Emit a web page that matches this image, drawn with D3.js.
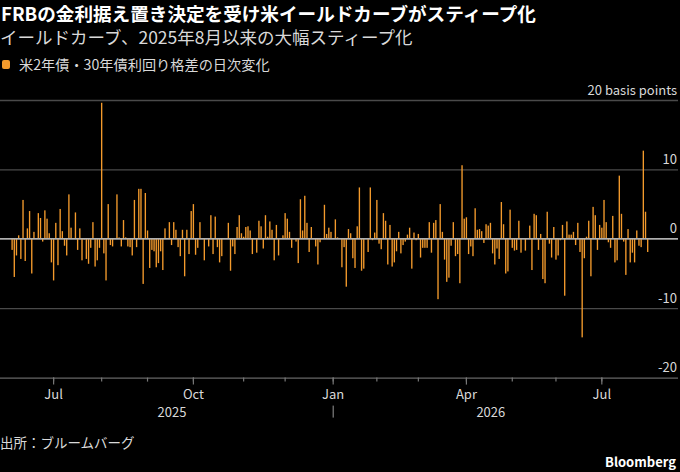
<!DOCTYPE html>
<html>
<head>
<meta charset="utf-8">
<script src="https://cdn.jsdelivr.net/npm/d3@7"></script>
<style>
    body { margin: 0; background: #000; }
    svg text { font-family: "Noto Sans CJK JP", "Noto Sans", sans-serif; }
</style>
</head>
<body>
<div id="chart-container"></div>
<script>

var TITLE = 'FRBの金利据え置き決定を受け米イールドカーブがスティープ化';
var SUBTITLE = 'イールドカーブ、2025年8月以来の大幅スティープ化';
var LEGEND_LABEL = '米2年債・30年債利回り格差の日次変化';
var UNIT_LABEL = '20 basis points';
var SOURCE = '出所：ブルームバーグ';
var BRAND = 'Bloomberg';

// trading days start here, weekends and these market holidays are skipped
var FIRST_DAY = '2025-06-03';
var HOLIDAYS = ['2025-06-19', '2025-07-04', '2025-09-01', '2025-11-27', '2025-12-25',
    '2026-01-01', '2026-01-19', '2026-02-16', '2026-04-03', '2026-05-25',
    '2026-06-19', '2026-07-03'];

// daily change of the 2s30s spread, basis points
var SPREAD_CHANGE = [
    -1.6, -5.5, -2.4, 0.5, -2.9, 5.6, -3.2, 1.5, 4.0, -5.0,
    1.0, 0.1, 3.7, 3.0, -0.4, 4.1, 2.9, 0.8, -3.4, -6.0,
    2.3, -3.8, 4.3, 1.1, -1.0, -2.4, 6.4, 1.6, 0, 3.8,
    -1.6, 1.5, -3.1, -0.1, -2.9, -3.6, -1.3, 2.4, -4.0, -3.1,
    -1.3, 19.6, -2.1, -6.0, 5.0, -0.9, -1.1, 0, 6.4, 0.2,
    -1.1, 2.7, 0.2, -1.1, -1.2, -2.4, 5.6, -1.2, 7.2, 7.2,
    -6.5, 6.6, 1.2, -4.2, -1.6, -1.8, -4.1, -3.5, -1.8, -4.5,
    1.5, 0, 2.4, -0.9, 2.4, 1.3, -1.2, -2.5, 1.3, -5.4,
    1.3, -2.2, 4.0, 5.0, -2.3, -1.3, 2.4, 0, -3.1, 0,
    -1.1, 3.4, -2.2, 3.2, -1.2, -3.4, -2.5, 0, 0, 2.3,
    -4.6, -1.1, -2.2, 1.7, 3.4, 0.8, 0.3, 1.7, 1.8, 1.2,
    -2.2, 0, -2.0, 2.6, 1.8, -1.4, 3.4, 0.3, 2.5, 1.3,
    -3.1, 2.0, -2.4, 0, 0.5, 3.7, 2.9, 1.0, -1.3, 0,
    -0.4, -3.5, 5.7, 1.2, 6.2, 2.3, -1.9, 1.7, 0, -1.1,
    -3.7, -0.5, 0, 4.9, 0.7, 1.6, 1.0, 0, 2.8, 0.2,
    0, -4.1, -1.2, -6.9, 1.4, 0.8, -2.8, -4.2, 1.8, 7.4,
    -4.6, -4.3, 0, -1.9, 7.4, -0.2, 0.9, 5.6, -0.7, -1.5,
    3.7, 2.6, -3.7, 2.0, -4.0, -3.4, -1.8, 1.0, -2.1, -0.9,
    -0.4, 0.6, 1.6, -4.3, 0.9, -0.2, 0.7, -2.7, -1.3, -1.3,
    -1.3, 2.4, -2.0, 2.3, 2.7, -8.7, 5.0, 1.0, -3.0, -6.2,
    -5.6, -1.0, 2.4, -2.5, -2.2, -6.4, 10.6, 2.9, 3.1, -2.2,
    -1.1, -2.5, 4.4, 1.3, 1.4, 1.1, -0.6, 2.1, 1.9, 2.3,
    -2.1, -3.7, -1.4, -2.9, 5.3, 2.1, -5.0, -4.7, 4.2, -1.3,
    -1.7, -1.6, 2.6, -2.0, 0, -1.7, 0, 1.9, -4.5, 3.6,
    3.4, -1.6, 0.7, -5.8, -6.4, 3.9, -0.7, -2.7, 1.7, -3.0,
    -2.4, -0.2, 2.0, -8.2, 2.5, 0.6, 0.6, 1.0, -0.9, 2.3,
    -1.9, -14.2, -2.8, 0.3, 2.6, -5.4, 4.6, 3.4, -1.6, 2.0,
    1.6, 5.6, 2.4, -0.5, -1.3, 3.3, -3.4, -3.1, 9.1, 3.6,
    -0.4, -5.2, 1.4, -3.4, -2.0, -3.4, 1.2, -1.0, -1.2, 12.7,
    3.9, -1.9
];

var Y_TICKS = [20, 10, 0, -10, -20];
var LABELLED_MONTHS = [0, 3, 6, 9]; // Jan Apr Jul Oct
var YEARS = [2025, 2026];

var CHART = (function () {

    var _svg = null,
    _gGrid = null,
    _gBars = null,
    _gXAxis = null,

    _width = 680,
    _height = 472,

    _plotLeft = 0,
    _plotRight = 678,
    _plotTop = 100,
    _plotBottom = 377.6,

    _barColor = '#f39a2c',
    _textColor = '#d9d9d9',
    _gridColor = '#4a4a4a',
    _zeroColor = '#b0b0b0'
    ;

    var fmtKey = d3.utcFormat('%Y-%m-%d');
    var fmtMonth = d3.utcFormat('%b');

    function tradingDays(n) {
        var skip = new Set(HOLIDAYS);
        var start = new Date(FIRST_DAY + 'T00:00:00Z');
        var all = d3.utcDays(start, d3.utcDay.offset(start, 600));
        return all.filter(function (d) {
            var wd = d.getUTCDay();
            return wd !== 0 && wd !== 6 && !skip.has(fmtKey(d));
        }).slice(0, n);
    }

    function draw() {

        var days = tradingDays(SPREAD_CHANGE.length);
        var data = SPREAD_CHANGE.map(function (v, i) { return { i: i, date: days[i], v: v }; });

        var x = d3.scaleBand()
            .domain(d3.range(data.length))
            .range([10.6, 10.6 + 2.187 * data.length])
            .padding(0.38);

        var y = d3.scaleLinear()
            .domain([-20, 20])
            .range([_plotBottom, _plotTop]);

        _svg = d3.select('#chart-container').append('svg')
            .attr('width', _width)
            .attr('height', _height)
            .style('background', '#000');

        // HEADER
        // ----------------------------------------------------------------
        _svg.append('text')
            .attr('x', 1).attr('y', 21)
            .attr('fill', '#fff')
            .attr('font-size', 18.6)
            .attr('font-weight', 'bold')
            .text(TITLE);

        _svg.append('text')
            .attr('x', 0).attr('y', 43.5)
            .attr('fill', _textColor)
            .attr('font-size', 17.5)
            .text(SUBTITLE);

        _svg.append('rect')
            .attr('x', 2).attr('y', 60)
            .attr('width', 8).attr('height', 9)
            .attr('rx', 2)
            .attr('fill', _barColor);

        _svg.append('text')
            .attr('x', 19).attr('y', 70)
            .attr('fill', _textColor)
            .attr('font-size', 14.2)
            .text(LEGEND_LABEL);

        // GRID + Y LABELS
        // ----------------------------------------------------------------
        _gGrid = _svg.append('g')
            .attr('transform', 'translate(' + _plotRight + ',0)')
            .call(d3.axisLeft(y)
                .tickValues(Y_TICKS)
                .tickSize(_plotRight - _plotLeft)
                .tickFormat(function (d) { return d === 20 ? UNIT_LABEL : d; }));

        _gGrid.select('.domain').remove();
        _gGrid.selectAll('.tick line')
            .attr('stroke', function (d) { return d === -20 ? '#666' : _gridColor; })
            .attr('stroke-width', 1.3);
        _gGrid.selectAll('.tick text')
            .attr('x', -1)
            .attr('dy', -6)
            .attr('text-anchor', 'end')
            .attr('fill', _textColor)
            .attr('font-size', 13)
            .attr('font-family', '"Noto Sans CJK JP", "Noto Sans", sans-serif');

        // BARS
        // ----------------------------------------------------------------
        _gBars = _svg.append('g');

        _gBars.selectAll('rect')
            .data(data)
            .enter()
            .append('rect')
            .attr('x', function (d) { return x(d.i); })
            .attr('width', x.bandwidth())
            .attr('y', function (d) { return y(Math.max(0, d.v)); })
            .attr('height', function (d) { return Math.abs(y(d.v) - y(0)); })
            .attr('fill', _barColor);

        _svg.append('line')
            .attr('x1', _plotLeft).attr('x2', _plotRight)
            .attr('y1', y(0)).attr('y2', y(0))
            .attr('stroke', _zeroColor)
            .attr('stroke-width', 1.4);

        // X AXIS
        // ----------------------------------------------------------------
        var monthStarts = data.filter(function (d, i) {
            return i > 0 && d.date.getUTCMonth() !== data[i - 1].date.getUTCMonth();
        });
        var labelled = monthStarts.filter(function (d) {
            return LABELLED_MONTHS.indexOf(d.date.getUTCMonth()) >= 0;
        });
        var byIndex = function (d) { return d.i; };

        _gXAxis = _svg.append('g')
            .attr('transform', 'translate(0,' + _plotBottom + ')');

        _gXAxis.append('g')
            .call(d3.axisBottom(x)
                .tickValues(monthStarts.map(byIndex))
                .tickSize(4)
                .tickFormat(''));

        var gMajor = _gXAxis.append('g')
            .call(d3.axisBottom(x)
                .tickValues(labelled.map(byIndex))
                .tickSize(7)
                .tickPadding(5)
                .tickFormat(function (i) { return fmtMonth(data[i].date); }));

        _gXAxis.selectAll('.domain').remove();
        _gXAxis.selectAll('.tick line').attr('stroke', '#777').attr('stroke-width', 1.2);
        gMajor.selectAll('.tick text')
            .attr('fill', _textColor)
            .attr('font-size', 13)
            .attr('font-family', '"Noto Sans CJK JP", "Noto Sans", sans-serif');

        // year labels centred on the part of the axis that falls in each year
        YEARS.forEach(function (yr) {
            var inYear = data.filter(function (d) { return d.date.getUTCFullYear() === yr; });
            var x0 = x(inYear[0].i);
            var x1 = x(inYear[inYear.length - 1].i) + x.step();
            _gXAxis.append('text')
                .attr('x', (x0 + x1) / 2)
                .attr('y', 39)
                .attr('text-anchor', 'middle')
                .attr('fill', _textColor)
                .attr('font-size', 13)
                .text(yr);
            if (inYear[0].i > 0) {
                _gXAxis.append('line')
                    .attr('x1', x0 + x.bandwidth() / 2).attr('x2', x0 + x.bandwidth() / 2)
                    .attr('y1', 28).attr('y2', 40)
                    .attr('stroke', '#999');
            }
        });

        // FOOTER
        // ----------------------------------------------------------------
        _svg.append('text')
            .attr('x', 0).attr('y', 448)
            .attr('fill', _textColor)
            .attr('font-size', 13.5)
            .text(SOURCE);

        _svg.append('text')
            .attr('x', 676).attr('y', 467)
            .attr('text-anchor', 'end')
            .attr('fill', '#fff')
            .attr('font-size', 13)
            .attr('font-weight', 'bold')
            .text(BRAND);
    }

    return { draw: draw };

}());

CHART.draw();

</script>
</body>
</html>
